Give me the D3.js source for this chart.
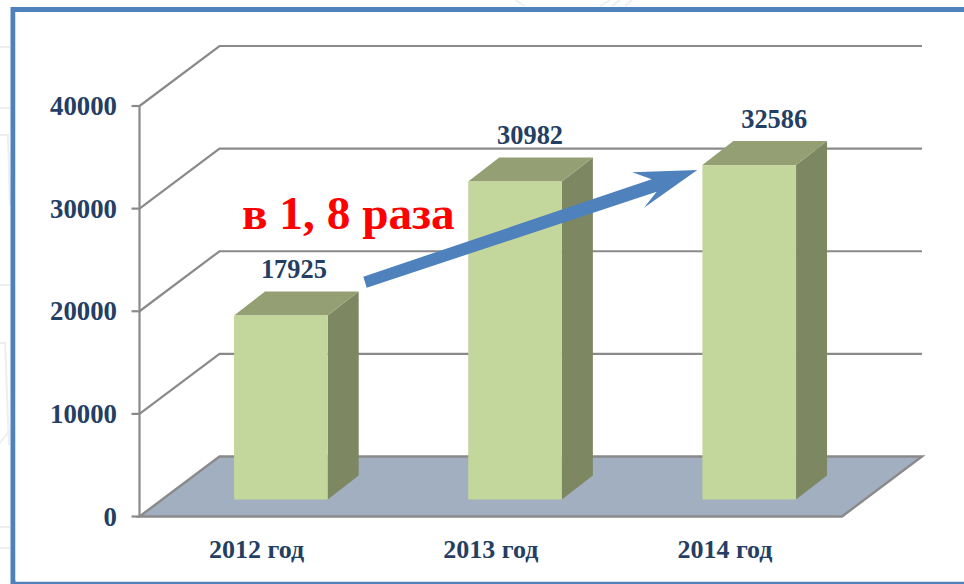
<!DOCTYPE html>
<html><head><meta charset="utf-8">
<script src="https://cdn.jsdelivr.net/npm/d3@7"></script>
<style>html,body{margin:0;padding:0;background:#fff;overflow:hidden}svg{display:block}</style>
</head><body><svg id="c" width="964" height="584"></svg>
<script>
const categories = ["2012 год","2013 год","2014 год"];
const values = [17925,30982,32586];
const yTicks = [0,10000,20000,30000,40000];
const annotation = "в 1, 8 раза";

const svg = d3.select("#c");
const navy = "#243F63", wall = "#8A8A8A";
const serif = "Liberation Serif";
const x = d3.scaleBand().domain(categories).range([139.5,842]).paddingInner(0.6).paddingOuter(0.3);
const y = d3.scaleLinear().domain([0,40000]).range([516.5,106]);
const wallDx = 80, wallDy = -60;
const barShiftX = 24.3, barShiftY = -17, barDx = 31, barDy = -24;
const labelNudge = [13,15,25];
const h = y(0)+barShiftY;

// faint watermark behind the frame
const wm = svg.append("g").attr("fill","none").attr("stroke","#ECEEF0").attr("stroke-width",2);
wm.append("path").attr("d","M0,47H10M0,108H10M0,135H8L10,205M0,285H10M0,343H5L9,445M0,527H10M0,548H10M0,443L10,430");
wm.append("path").attr("d","M515,0L525,6M600,6L610,0M625,6L632,0M620,0L612,6");

// frame
svg.append("rect").attr("x",13).attr("y",9.5).attr("width",980).attr("height",573)
  .attr("fill","#fff").attr("stroke","#4F81BD").attr("stroke-width",5);
svg.append("rect").attr("x",15.5).attr("y",12).attr("width",960).attr("height",570).attr("fill","#fff");
svg.append("line").attr("x1",15).attr("x2",964).attr("y1",582.5).attr("y2",582.5).attr("stroke","#4F81BD").attr("stroke-width",1.5);

// floor
const x0 = x.range()[0], x1 = x.range()[1];
svg.append("path").attr("d",`M${x0},${y(0)}L${x0+wallDx},${y(0)+wallDy}L${x1+wallDx},${y(0)+wallDy}L${x1},${y(0)}Z`)
  .attr("fill","#A2AFC1").attr("stroke",wall).attr("stroke-width",2.4);

// grid
const grid = svg.append("g").attr("fill","none").attr("stroke",wall).attr("stroke-width",2.2);
yTicks.forEach(t=>{
  if(t>0) grid.append("path").attr("d",`M${x0},${y(t)}L${x0+wallDx},${y(t)+wallDy}L${x1+wallDx},${y(t)+wallDy}`);
  grid.append("line").attr("x1",x0-8).attr("x2",x0).attr("y1",y(t)).attr("y2",y(t));
});
grid.append("line").attr("x1",x0).attr("x2",x0).attr("y1",y(0)).attr("y2",y(40000));

// axis labels
svg.append("g").selectAll("text").data(yTicks).join("text")
  .attr("x",117).attr("y",d=>y(d)+9).attr("text-anchor","end")
  .attr("font-family",serif).attr("font-weight","bold").attr("font-size",26.8).attr("fill",navy)
  .text(d=>d);
svg.append("g").selectAll("text").data(categories).join("text")
  .attr("x",d=>x(d)+x.bandwidth()/2).attr("y",557.5).attr("text-anchor","middle")
  .attr("font-family",serif).attr("font-weight","bold").attr("font-size",26).attr("fill",navy)
  .text(d=>d);

// bars
const bars = svg.append("g").selectAll("g").data(categories).join("g");
const bx = d=>x(d)+barShiftX, bw = x.bandwidth();
const barTop = (d,i)=>y(values[i])+barShiftY;
bars.append("path").attr("fill","#7D8863")
  .attr("d",(d,i)=>`M${bx(d)+bw},${barTop(d,i)}L${bx(d)+bw+barDx},${barTop(d,i)+barDy}L${bx(d)+bw+barDx},${h+barDy}L${bx(d)+bw},${h}Z`);
bars.append("path").attr("fill","#949F74")
  .attr("d",(d,i)=>`M${bx(d)},${barTop(d,i)}L${bx(d)+barDx},${barTop(d,i)+barDy}L${bx(d)+bw+barDx},${barTop(d,i)+barDy}L${bx(d)+bw},${barTop(d,i)}Z`);
bars.append("rect").attr("fill","#C3D69B")
  .attr("x",d=>bx(d)).attr("width",bw).attr("y",(d,i)=>barTop(d,i)).attr("height",(d,i)=>h-barTop(d,i));
bars.append("text").attr("x",(d,i)=>bx(d)+bw/2+labelNudge[i]).attr("y",(d,i)=>barTop(d,i)+barDy-13.5)
  .attr("text-anchor","middle").attr("font-family",serif).attr("font-weight","bold")
  .attr("font-size",26.4).attr("fill",navy).text((d,i)=>values[i]);

// arrow
svg.append("path").attr("fill","#4F81BD")
  .attr("d","M363.3,276.7L651.7,179.3L632.3,172.3L697.3,170L644,207.7L656.7,191.7L366.7,287.7Z");
// annotation
svg.append("text").attr("x",242).attr("y",229).attr("font-family",serif).attr("font-weight","bold")
  .attr("font-size",47.3).attr("fill","#FF0000").text(annotation);
</script></body></html>
